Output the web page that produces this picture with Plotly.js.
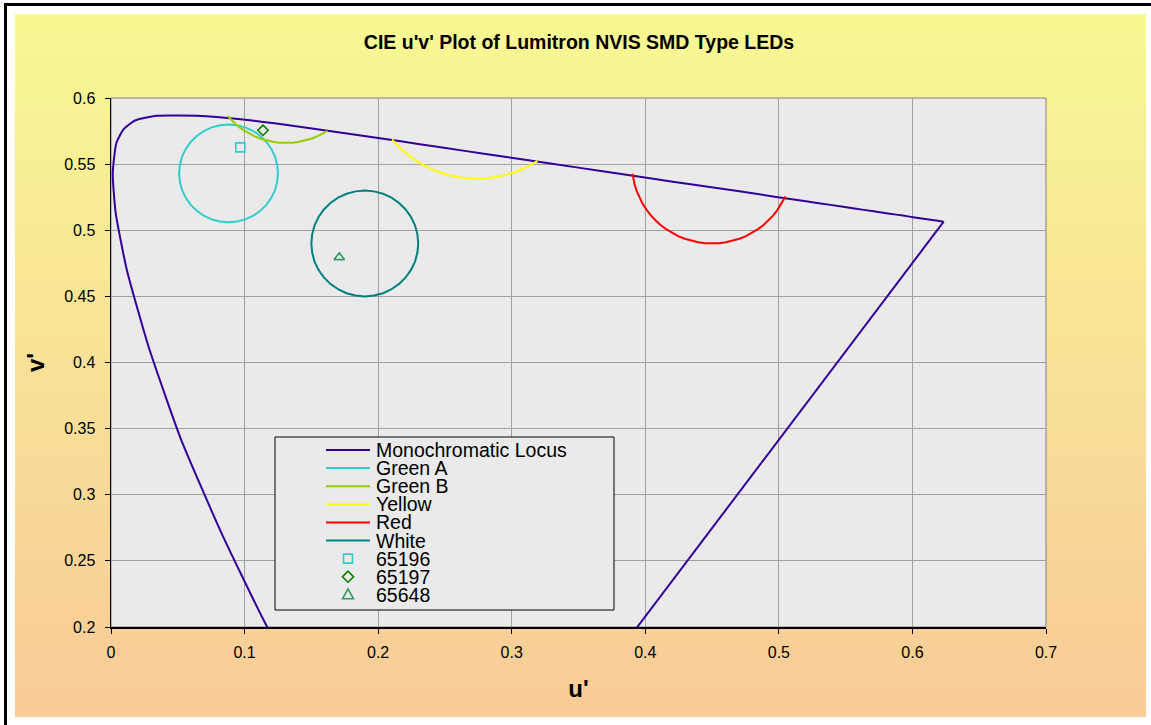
<!DOCTYPE html>
<html>
<head>
<meta charset="utf-8">
<script src="https://cdn.plot.ly/plotly-3.0.1.min.js"></script>
<style>
html,body{margin:0;padding:0;background:#ffffff;width:1151px;height:725px;overflow:hidden;}
#frame{position:absolute;left:4px;top:3px;width:1300px;height:900px;border-top:3px solid #000;border-left:3px solid #000;}
#bg{position:absolute;left:15px;top:14px;width:1131px;height:703px;background:linear-gradient(to bottom,#F8F993 0%,#F8E196 50%,#F8CB98 100%);}
#chart{position:absolute;left:0;top:0;width:1151px;height:725px;}
</style>
</head>
<body>
<div id="frame"></div>
<div id="bg"></div>
<div id="chart"></div>
<script>
// ---- Data ----
const seriesNames = ['Monochromatic Locus', 'Green A', 'Green B', 'Yellow', 'Red', 'White'];
const sampleNames = ['65196', '65197', '65648'];

// Monochromatic (spectral) locus, 380 -> 700 nm, closed back to 380 nm by the purple line
const locusU = [0.2568, 0.2564, 0.2557, 0.2545, 0.2522, 0.2461, 0.2347, 0.2161, 0.1877, 0.1690,
  0.1441, 0.1147, 0.0828, 0.0521, 0.0282, 0.0119, 0.0035, 0.0013, 0.0040, 0.0095,
  0.0180, 0.0340, 0.0501, 0.0643, 0.0792, 0.0953, 0.1127, 0.1319, 0.1531, 0.1766,
  0.2026, 0.2312, 0.2623, 0.2960, 0.3315, 0.3681, 0.4035, 0.4379, 0.4692, 0.4968,
  0.5203, 0.5399, 0.5565, 0.5709, 0.5830, 0.5929, 0.6005, 0.6109, 0.6162, 0.6199,
  0.6234, 0.2568];
const locusV = [0.0166, 0.0163, 0.0159, 0.0159, 0.0169, 0.0226, 0.0350, 0.0549, 0.0871, 0.1119,
  0.1510, 0.2044, 0.2708, 0.3427, 0.4117, 0.4698, 0.5131, 0.5432, 0.5660, 0.5765,
  0.5830, 0.5866, 0.5868, 0.5865, 0.5856, 0.5841, 0.5821, 0.5796, 0.5766, 0.5732,
  0.5694, 0.5651, 0.5604, 0.5554, 0.5501, 0.5446, 0.5393, 0.5342, 0.5296, 0.5254,
  0.5219, 0.5190, 0.5165, 0.5143, 0.5125, 0.5111, 0.5099, 0.5084, 0.5076, 0.5070,
  0.5065, 0.0166];

const greenAU = [0.1250, 0.1244, 0.1228, 0.1200, 0.1163, 0.1118, 0.1065, 0.1006, 0.0944, 0.0880,
  0.0816, 0.0754, 0.0695, 0.0642, 0.0597, 0.0560, 0.0532, 0.0516, 0.0510, 0.0516,
  0.0532, 0.0560, 0.0597, 0.0642, 0.0695, 0.0754, 0.0816, 0.0880, 0.0944, 0.1006,
  0.1065, 0.1118, 0.1163, 0.1200, 0.1228, 0.1244, 0.1250];
const greenAV = [0.5430, 0.5494, 0.5557, 0.5615, 0.5668, 0.5713, 0.5750, 0.5778, 0.5794, 0.5800,
  0.5794, 0.5778, 0.5750, 0.5713, 0.5668, 0.5615, 0.5557, 0.5494, 0.5430, 0.5366,
  0.5303, 0.5245, 0.5192, 0.5147, 0.5110, 0.5082, 0.5066, 0.5060, 0.5066, 0.5082,
  0.5110, 0.5147, 0.5192, 0.5245, 0.5303, 0.5366, 0.5430];

const greenBU = [0.0873, 0.0907, 0.0944, 0.0983, 0.1025, 0.1069, 0.1115, 0.1163, 0.1211, 0.1260,
  0.1310, 0.1360, 0.1409, 0.1458, 0.1505, 0.1551, 0.1595, 0.1620];
const greenBV = [0.5864, 0.5827, 0.5793, 0.5763, 0.5736, 0.5713, 0.5694, 0.5679, 0.5669, 0.5662,
  0.5660, 0.5662, 0.5669, 0.5679, 0.5694, 0.5713, 0.5736, 0.5752];

const yellowU = [0.2104, 0.2153, 0.2207, 0.2264, 0.2325, 0.2389, 0.2456, 0.2525, 0.2596, 0.2668,
  0.2740, 0.2812, 0.2884, 0.2955, 0.3024, 0.3091, 0.3155, 0.3192];
const yellowV = [0.5687, 0.5633, 0.5584, 0.5540, 0.5501, 0.5468, 0.5440, 0.5418, 0.5403, 0.5393,
  0.5390, 0.5393, 0.5403, 0.5418, 0.5440, 0.5468, 0.5501, 0.5524];

const redU = [0.3905, 0.3909, 0.3920, 0.3936, 0.3956, 0.3980, 0.4009, 0.4040, 0.4076, 0.4114,
  0.4156, 0.4200, 0.4246, 0.4295, 0.4345, 0.4396, 0.4448, 0.4500, 0.4552, 0.4604,
  0.4655, 0.4705, 0.4754, 0.4800, 0.4844, 0.4886, 0.4924, 0.4960, 0.4991, 0.5020,
  0.5044, 0.5048];
const redV = [0.5427, 0.5396, 0.5345, 0.5295, 0.5246, 0.5200, 0.5156, 0.5114, 0.5076, 0.5040,
  0.5009, 0.4980, 0.4956, 0.4936, 0.4920, 0.4909, 0.4902, 0.4900, 0.4902, 0.4909,
  0.4920, 0.4936, 0.4956, 0.4980, 0.5009, 0.5040, 0.5076, 0.5114, 0.5156, 0.5200,
  0.5246, 0.5256];

const whiteU = [0.2300, 0.2294, 0.2276, 0.2246, 0.2206, 0.2157, 0.2100, 0.2037, 0.1969, 0.1900,
  0.1831, 0.1763, 0.1700, 0.1643, 0.1594, 0.1554, 0.1524, 0.1506, 0.1500, 0.1506,
  0.1524, 0.1554, 0.1594, 0.1643, 0.1700, 0.1763, 0.1831, 0.1900, 0.1969, 0.2037,
  0.2100, 0.2157, 0.2206, 0.2246, 0.2276, 0.2294, 0.2300];
const whiteV = [0.4900, 0.4969, 0.5037, 0.5100, 0.5157, 0.5206, 0.5246, 0.5276, 0.5294, 0.5300,
  0.5294, 0.5276, 0.5246, 0.5206, 0.5157, 0.5100, 0.5037, 0.4969, 0.4900, 0.4831,
  0.4763, 0.4700, 0.4643, 0.4594, 0.4554, 0.4524, 0.4506, 0.4500, 0.4506, 0.4524,
  0.4554, 0.4594, 0.4643, 0.4700, 0.4763, 0.4831, 0.4900];

const sampleU = [0.0968, 0.1138, 0.1709];
const sampleV = [0.5627, 0.5756, 0.4795];

// ---- Styles ----
const FONT = 'Liberation Sans, Arial, Helvetica, sans-serif';
const lineColors = ['#330099', '#33CCCC', '#99CC00', '#FFFF00', '#FF0000', '#008080'];
const sampleColors = ['#33CCCC', '#008000', '#339966'];
const sampleSymbols = ['square-open', 'diamond-open', 'triangle-up-open'];
const sampleSizes = [9, 8, 9];

const lineU = [locusU, greenAU, greenBU, yellowU, redU, whiteU];
const lineV = [locusV, greenAV, greenBV, yellowV, redV, whiteV];

const traces = [];
// spectral curve (smoothed) and the straight purple closing line of the locus
const nL = locusU.length;
traces.push({
  type: 'scatter', mode: 'lines', name: seriesNames[0],
  x: locusU.slice(0, nL - 1), y: locusV.slice(0, nL - 1),
  line: {color: lineColors[0], width: 2, shape: 'spline', smoothing: 0.5},
  showlegend: false, hoverinfo: 'skip'
});
traces.push({
  type: 'scatter', mode: 'lines', name: seriesNames[0],
  x: locusU.slice(nL - 2), y: locusV.slice(nL - 2),
  line: {color: lineColors[0], width: 2},
  showlegend: false, hoverinfo: 'skip'
});
for (let i = 1; i < seriesNames.length; i++) {
  traces.push({
    type: 'scatter', mode: 'lines', name: seriesNames[i],
    x: lineU[i], y: lineV[i],
    line: {color: lineColors[i], width: 2},
    showlegend: false, hoverinfo: 'skip'
  });
}
for (let i = 0; i < sampleNames.length; i++) {
  traces.push({
    type: 'scatter', mode: 'markers', name: sampleNames[i],
    x: [sampleU[i]], y: [sampleV[i]],
    marker: {symbol: sampleSymbols[i], size: sampleSizes[i], color: sampleColors[i], line: {width: 1.6, color: sampleColors[i]}},
    showlegend: false, hoverinfo: 'skip'
  });
}

// ---- Layout helpers (pixel -> paper) ----
const PL = 111, PR = 1046, PT = 98, PB = 627;
const px = x => (x - PL) / (PR - PL);
const py = y => (PB - y) / (PB - PT);

const shapes = [
  {type: 'rect', xref: 'paper', yref: 'paper', x0: 0, x1: 1, y0: 0, y1: 1,
   line: {color: '#808080', width: 1}, layer: 'below'},
  // legend box
  {type: 'rect', xref: 'paper', yref: 'paper', x0: px(275), x1: px(614), y0: py(610), y1: py(437),
   fillcolor: '#EAEAEA', line: {color: '#000000', width: 1}, layer: 'above'}
];
const annotations = [];
const LEG_Y0 = 450, LEG_DY = 18.1;
const legendLabels = seriesNames.concat(sampleNames);
for (let i = 0; i < legendLabels.length; i++) {
  const yy = LEG_Y0 + LEG_DY * i;
  annotations.push({
    xref: 'paper', yref: 'paper', x: px(374), y: py(yy), xanchor: 'left', yanchor: 'middle',
    text: legendLabels[i], showarrow: false, font: {family: FONT, size: 19.5, color: '#000'}
  });
  if (i < seriesNames.length) {
    shapes.push({type: 'line', xref: 'paper', yref: 'paper', x0: px(326), x1: px(370), y0: py(yy), y1: py(yy),
      line: {color: lineColors[i], width: 2}, layer: 'above'});
  }
}
// legend marker symbols
const mx = px(348);
const my = k => py(LEG_Y0 + LEG_DY * (seriesNames.length + k));
shapes.push({type: 'rect', xref: 'paper', yref: 'paper', xsizemode: 'pixel', ysizemode: 'pixel',
  xanchor: mx, yanchor: my(0), x0: -4.5, x1: 4.5, y0: -4.5, y1: 4.5,
  line: {color: sampleColors[0], width: 1.6}, layer: 'above'});
shapes.push({type: 'path', xref: 'paper', yref: 'paper', xsizemode: 'pixel', ysizemode: 'pixel',
  xanchor: mx, yanchor: my(1), path: 'M0,5.5L5.5,0L0,-5.5L-5.5,0Z',
  line: {color: sampleColors[1], width: 1.6}, layer: 'above'});
shapes.push({type: 'path', xref: 'paper', yref: 'paper', xsizemode: 'pixel', ysizemode: 'pixel',
  xanchor: mx, yanchor: my(2), path: 'M0,6L5.5,-4L-5.5,-4Z',
  line: {color: sampleColors[2], width: 1.6}, layer: 'above'});

const layout = {
  width: 1151, height: 725,
  margin: {l: PL, r: 1151 - PR, t: PT, b: 725 - PB, pad: 0},
  paper_bgcolor: 'rgba(0,0,0,0)',
  plot_bgcolor: '#EAEAEA',
  showlegend: false,
  font: {family: FONT, color: '#000'},
  title: {
    text: "CIE u'v' Plot of Lumitron NVIS SMD Type LEDs",
    font: {family: FONT, size: 19.5, color: '#000', weight: 'bold'},
    x: 579 / 1151, xref: 'container', xanchor: 'center',
    y: 1 - 42 / 725, yref: 'container', yanchor: 'middle'
  },
  xaxis: {
    range: [0, 0.7], dtick: 0.1, tick0: 0,
    showgrid: true, gridcolor: '#A0A0A0', gridwidth: 1, zeroline: false,
    showline: true, linecolor: '#000', linewidth: 1.5,
    ticks: 'outside', ticklen: 5, tickcolor: '#000', tickwidth: 1,
    tickfont: {family: FONT, size: 16, color: '#000'}, ticklabelstandoff: 5,
    title: {text: "u'", font: {family: FONT, size: 24, color: '#000', weight: 'bold'}, standoff: 20}
  },
  yaxis: {
    range: [0.2, 0.6], dtick: 0.05, tick0: 0,
    showgrid: true, gridcolor: '#A0A0A0', gridwidth: 1, zeroline: false,
    showline: true, linecolor: '#000', linewidth: 1.5,
    ticks: 'outside', ticklen: 5, tickcolor: '#000', tickwidth: 1,
    tickfont: {family: FONT, size: 16, color: '#000'}, ticklabelstandoff: 6,
    title: {text: "v'", font: {family: FONT, size: 24, color: '#000', weight: 'bold'}, standoff: 13}
  },
  shapes: shapes,
  annotations: annotations
};

Plotly.newPlot('chart', traces, layout, {staticPlot: true, displayModeBar: false});
</script>
</body>
</html>
